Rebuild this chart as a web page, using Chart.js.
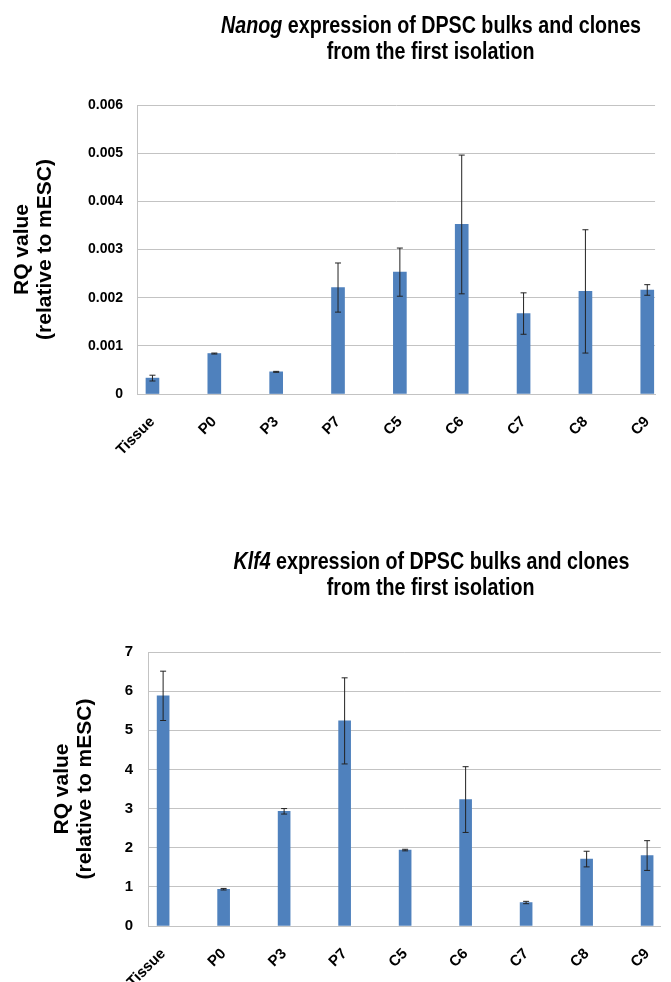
<!DOCTYPE html>
<html>
<head>
<meta charset="utf-8">
<script src="https://cdn.jsdelivr.net/npm/chart.js@4.4.1/dist/chart.umd.min.js"></script>
<style>
  body { margin: 0; background: #fff; width: 671px; height: 982px; overflow: hidden; position: relative; }
  .title { position: absolute; left: 0; width: 862px; text-align: center; color: #000;
           font-family: "Liberation Sans", Arial, sans-serif;
           font-weight: bold; font-size: 24px; line-height: 26px; z-index: 2; }
  .title span { display: inline-block; transform: scaleX(0.82); transform-origin: 50% 50%; white-space: nowrap; }
  canvas { position: absolute; left: 0; }
</style>
</head>
<body>
<div class="title" style="top:12px">
  <div><span><i>Nanog</i> expression of DPSC bulks and clones</span></div>
  <div><span>from the first isolation</span></div>
</div>
<div class="title" style="top:548px">
  <div><span><i>Klf4</i> expression of DPSC bulks and clones</span></div>
  <div><span>from the first isolation</span></div>
</div>
<canvas id="nanogChart" width="671" height="464" style="top:0"></canvas>
<canvas id="klf4Chart" width="671" height="482" style="top:500px"></canvas>
<script>
const categories = ['Tissue', 'P0', 'P3', 'P7', 'C5', 'C6', 'C7', 'C8', 'C9'];

const nanogValues = [0.00033, 0.00084, 0.00046, 0.00221, 0.00253, 0.00352, 0.00167, 0.00213, 0.00216];
const nanogErrors = [0.00006, 0.00001, 0.00001, 0.00051, 0.0005, 0.00144, 0.00043, 0.00128, 0.00011];
const nanogTicks = ['0', '0.001', '0.002', '0.003', '0.004', '0.005', '0.006'];

const klf4Values = [5.88, 0.94, 2.93, 5.24, 1.94, 3.23, 0.60, 1.71, 1.80];
const klf4Errors = [0.63, 0.02, 0.07, 1.1, 0.02, 0.84, 0.03, 0.2, 0.38];
const klf4Ticks = ['0', '1', '2', '3', '4', '5', '6', '7'];

const barColor = '#4f81bd';
const gridColor = '#c3c3c3';

// draws the error bars with the chart's own y scale
const errorBars = {
  id: 'errorBars',
  afterDatasetsDraw(chart) {
    const ctx = chart.ctx;
    const yScale = chart.scales.y;
    chart.data.datasets.forEach(function (ds, di) {
      const meta = chart.getDatasetMeta(di);
      meta.data.forEach(function (bar, i) {
        const v = ds.data[i].y, e = ds.errors[i];
        const yTop = yScale.getPixelForValue(v + e);
        const yBot = yScale.getPixelForValue(v - e);
        ctx.save();
        ctx.strokeStyle = '#222';
        ctx.lineWidth = 1;
        ctx.beginPath();
        ctx.moveTo(bar.x, yTop); ctx.lineTo(bar.x, yBot);
        ctx.moveTo(bar.x - 3, yTop); ctx.lineTo(bar.x + 3, yTop);
        ctx.moveTo(bar.x - 3, yBot); ctx.lineTo(bar.x + 3, yBot);
        ctx.stroke();
        ctx.restore();
      });
    });
  }
};

function makeChart(id, values, errors, yTicks, opt) {
  const ctx = document.getElementById(id).getContext('2d');
  return new Chart(ctx, {
    type: 'bar',
    data: {
      datasets: [{
        data: values.map(function (v, i) { return { x: i, y: v }; }),
        errors: errors,
        backgroundColor: barColor,
        barThickness: opt.barWidth
      }]
    },
    plugins: [errorBars],
    options: {
      responsive: false,
      animation: false,
      layout: { padding: { top: opt.padTop, left: 0, right: opt.padRight, bottom: 0 } },
      plugins: { legend: { display: false }, tooltip: { enabled: false } },
      scales: {
        x: {
          type: 'linear',
          offset: false,
          min: -0.25,
          max: opt.xMax,
          afterBuildTicks: function (scale) {
            scale.ticks = categories.map(function (c, i) { return { value: i }; });
          },
          afterFit: function (scale) { scale.height = opt.xHeight; },
          grid: { display: false, offset: false },
          border: { display: true, color: gridColor },
          ticks: {
            autoSkip: false,
            minRotation: 45,
            maxRotation: 45,
            padding: 11,
            color: '#000',
            font: { family: 'Liberation Sans', weight: 'bold', size: 15 },
            callback: function (value) { return categories[value]; }
          }
        },
        y: {
          min: 0,
          max: Number(yTicks[yTicks.length - 1]),
          afterBuildTicks: function (scale) {
            scale.ticks = yTicks.map(function (t) { return { value: Number(t) }; });
          },
          afterFit: function (scale) { scale.width = opt.yWidth; },
          grid: { color: gridColor, drawTicks: false },
          border: { color: gridColor },
          ticks: {
            padding: opt.tickPad,
            color: '#000',
            font: { family: 'Liberation Sans', weight: 'bold', size: opt.tickSize },
            callback: function (value, index) { return yTicks[index]; }
          },
          title: {
            display: true,
            text: ['RQ value', '(relative to mESC)'],
            color: '#000',
            padding: { top: opt.titlePad, bottom: 0 },
            font: { family: 'Liberation Sans', weight: 'bold', size: 21, lineHeight: 1.1 }
          }
        }
      }
    }
  });
}

makeChart('nanogChart', nanogValues, nanogErrors, nanogTicks, {
  padTop: 105, padRight: 0, xMax: 8.126, xHeight: 70, yWidth: 137,
  barWidth: 13, tickPad: 14, tickSize: 14, titlePad: 11
});

makeChart('klf4Chart', klf4Values, klf4Errors, klf4Ticks, {
  padTop: 152, padRight: 6, xMax: 8.226, xHeight: 56, yWidth: 148,
  barWidth: 12, tickPad: 15, tickSize: 15, titlePad: 51
});
</script>
</body>
</html>
